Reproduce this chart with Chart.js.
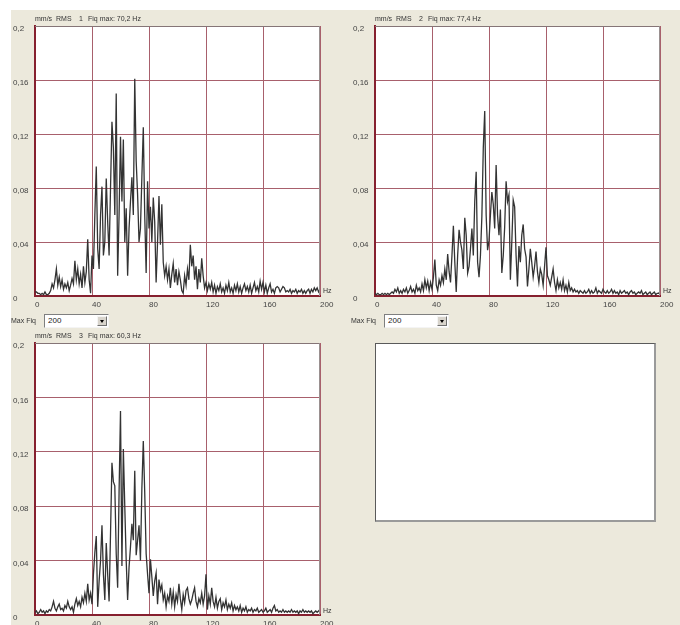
<!DOCTYPE html>
<html><head><meta charset="utf-8">
<script src="https://cdn.jsdelivr.net/npm/chart.js@4.4.1/dist/chart.umd.min.js"></script>
<style>
html,body{margin:0;padding:0;width:680px;height:625px;overflow:hidden;background:#fff;font-family:"Liberation Sans",Arial,sans-serif;}
#panel{position:absolute;left:11px;top:10px;width:669px;height:615px;background:#ece9dc;}
canvas{position:absolute;}
.t{position:absolute;font-size:7px;color:#333;white-space:pre;line-height:9px;}
.dd{position:absolute;width:65px;height:14px;box-sizing:border-box;background:#fff;border:1px solid;border-color:#7f7f7f #f4f4f4 #f4f4f4 #7f7f7f;font-size:8px;line-height:12px;padding-left:3px;color:#222;}
.dd .b{position:absolute;right:1px;top:1px;width:10px;height:10px;box-sizing:border-box;background:#d8d4cc;border:1px solid;border-color:#f4f4f4 #707070 #707070 #f4f4f4;}
.dd .b:after{content:"";position:absolute;left:2px;top:3px;border-left:2.5px solid transparent;border-right:2.5px solid transparent;border-top:3px solid #000;}
#empty{position:absolute;left:375px;top:343px;width:281px;height:179px;box-sizing:border-box;background:#fff;border:1px solid #5a5a5a;border-right:2px solid #9a9a9a;border-bottom:2px solid #9a9a9a;}
</style>
</head><body>
<div id="panel"></div>

<canvas id="c1" width="340" height="312" style="left:0;top:0"></canvas>
<canvas id="c2" width="340" height="312" style="left:340px;top:0"></canvas>
<canvas id="c3" width="340" height="314" style="left:0;top:317px"></canvas>
<div id="empty"></div>

<div class="t" style="left:35px;top:14px">mm/s</div><div class="t" style="left:56px;top:14px">RMS</div><div class="t" style="left:79px;top:14px">1</div><div class="t" style="left:88px;top:14px">Fiq max: 70,2 Hz</div>
<div class="t" style="left:323px;top:286px">Hz</div>
<div class="t" style="left:11px;top:316px">Max Fiq</div>
<div class="dd" style="left:44px;top:314px">200<div class="b"></div></div>

<div class="t" style="left:375px;top:14px">mm/s</div><div class="t" style="left:396px;top:14px">RMS</div><div class="t" style="left:419px;top:14px">2</div><div class="t" style="left:428px;top:14px">Fiq max: 77,4 Hz</div>
<div class="t" style="left:663px;top:286px">Hz</div>
<div class="t" style="left:351px;top:316px">Max Fiq</div>
<div class="dd" style="left:384px;top:314px">200<div class="b"></div></div>

<div class="t" style="left:35px;top:331px">mm/s</div><div class="t" style="left:56px;top:331px">RMS</div><div class="t" style="left:79px;top:331px">3</div><div class="t" style="left:88px;top:331px">Fiq max: 60,3 Hz</div>
<div class="t" style="left:323px;top:606px">Hz</div>

<script>
// ---- data (mm/s RMS, 1 Hz bins from 0 to 200 Hz) ----
const FREQ_STEP_HZ = 1;
const X_TICKS = [0, 40, 80, 120, 160, 200];
const Y_TICKS = [0, 0.04, 0.08, 0.12, 0.16, 0.2];

const SPECTRUM_1 = [
0.003,0.003,0.002,0.002,0.001,0.002,0.001,0.003,0.001,0.001,
0.002,0.004,0.009,0.006,0.012,0.020,0.008,0.014,0.007,0.012,
0.005,0.009,0.006,0.010,0.004,0.008,0.013,0.009,0.026,0.012,
0.020,0.009,0.016,0.006,0.022,0.010,0.018,0.042,0.012,0.002,
0.030,0.020,0.060,0.096,0.035,0.020,0.060,0.081,0.030,0.040,
0.087,0.055,0.030,0.080,0.129,0.110,0.060,0.150,0.015,0.060,
0.118,0.070,0.116,0.040,0.065,0.015,0.050,0.070,0.088,0.060,
0.161,0.100,0.075,0.040,0.050,0.088,0.125,0.060,0.017,0.085,
0.050,0.066,0.040,0.073,0.055,0.010,0.040,0.074,0.038,0.068,
0.025,0.015,0.022,0.012,0.020,0.006,0.016,0.024,0.010,0.020,
0.008,0.018,0.012,0.004,0.002,0.015,0.008,0.020,0.012,0.038,
0.022,0.030,0.012,0.022,0.005,0.020,0.010,0.028,0.015,0.006,
0.010,0.004,0.009,0.005,0.010,0.003,0.008,0.002,0.007,0.004,
0.009,0.003,0.006,0.002,0.008,0.004,0.010,0.003,0.006,0.002,
0.008,0.004,0.009,0.003,0.007,0.002,0.006,0.009,0.004,0.007,
0.003,0.008,0.002,0.006,0.010,0.004,0.007,0.003,0.011,0.005,
0.010,0.003,0.008,0.002,0.006,0.009,0.003,0.005,0.002,0.006,
0.007,0.006,0.003,0.005,0.007,0.006,0.003,0.004,0.003,0.005,
0.002,0.004,0.003,0.005,0.002,0.004,0.003,0.005,0.002,0.004,
0.002,0.004,0.005,0.002,0.005,0.003,0.006,0.004,0.006,0.003,
0.005];

const SPECTRUM_2 = [
0.002,0.001,0.002,0.001,0.001,0.002,0.001,0.002,0.001,0.002,
0.001,0.002,0.003,0.002,0.005,0.003,0.006,0.002,0.004,0.002,
0.005,0.003,0.006,0.002,0.004,0.007,0.003,0.005,0.002,0.008,
0.004,0.006,0.003,0.009,0.004,0.012,0.006,0.011,0.004,0.010,
0.005,0.014,0.027,0.008,0.004,0.012,0.008,0.015,0.010,0.020,
0.012,0.031,0.018,0.010,0.030,0.052,0.025,0.003,0.030,0.049,
0.040,0.034,0.020,0.058,0.045,0.017,0.022,0.035,0.050,0.030,
0.070,0.092,0.025,0.014,0.030,0.059,0.110,0.137,0.060,0.034,
0.041,0.060,0.077,0.068,0.050,0.097,0.060,0.045,0.064,0.017,
0.030,0.051,0.085,0.070,0.075,0.012,0.040,0.071,0.066,0.030,
0.007,0.037,0.025,0.045,0.053,0.035,0.029,0.007,0.020,0.035,
0.025,0.014,0.022,0.033,0.018,0.010,0.020,0.016,0.008,0.022,
0.036,0.015,0.012,0.008,0.014,0.020,0.010,0.004,0.012,0.006,
0.010,0.005,0.012,0.004,0.008,0.003,0.010,0.004,0.006,0.003,
0.005,0.003,0.004,0.002,0.004,0.003,0.002,0.004,0.002,0.003,
0.005,0.002,0.004,0.002,0.003,0.006,0.002,0.004,0.003,0.002,
0.005,0.003,0.002,0.004,0.002,0.003,0.005,0.002,0.004,0.002,
0.003,0.001,0.004,0.002,0.003,0.004,0.002,0.003,0.001,0.003,
0.004,0.002,0.003,0.001,0.002,0.003,0.002,0.004,0.001,0.002,
0.003,0.001,0.002,0.003,0.001,0.002,0.003,0.001,0.002,0.002,
0.003];

const SPECTRUM_3 = [
0.002,0.003,0.001,0.002,0.004,0.002,0.003,0.001,0.003,0.002,
0.004,0.003,0.006,0.010,0.005,0.003,0.006,0.008,0.004,0.005,
0.003,0.007,0.005,0.010,0.006,0.004,0.006,0.002,0.008,0.012,
0.007,0.010,0.006,0.013,0.009,0.016,0.010,0.023,0.011,0.016,
0.008,0.030,0.046,0.058,0.006,0.025,0.040,0.066,0.030,0.011,
0.053,0.030,0.010,0.060,0.112,0.098,0.095,0.045,0.020,0.090,
0.150,0.036,0.122,0.080,0.040,0.011,0.035,0.050,0.067,0.055,
0.106,0.044,0.055,0.066,0.040,0.093,0.128,0.090,0.045,0.030,
0.016,0.041,0.028,0.014,0.025,0.031,0.008,0.026,0.018,0.022,
0.011,0.016,0.006,0.014,0.010,0.020,0.008,0.017,0.006,0.015,
0.010,0.023,0.012,0.004,0.015,0.009,0.018,0.020,0.012,0.008,
0.011,0.016,0.020,0.010,0.006,0.012,0.009,0.016,0.008,0.014,
0.030,0.004,0.014,0.008,0.020,0.010,0.006,0.013,0.005,0.010,
0.012,0.004,0.009,0.006,0.011,0.004,0.008,0.005,0.009,0.003,
0.007,0.004,0.006,0.003,0.007,0.002,0.005,0.003,0.006,0.002,
0.004,0.003,0.005,0.002,0.004,0.003,0.005,0.002,0.003,0.004,
0.002,0.003,0.005,0.002,0.003,0.004,0.002,0.005,0.007,0.003,
0.004,0.002,0.003,0.002,0.004,0.002,0.003,0.002,0.003,0.002,
0.004,0.002,0.003,0.002,0.003,0.001,0.003,0.002,0.004,0.002,
0.003,0.002,0.003,0.002,0.003,0.001,0.002,0.003,0.002,0.003,
0.004];

// ---- styling ----
const GRID = '#a8606c';
const AXIS = '#86202f';
const LINE = '#333333';
const TICK_FONT = {family: '"Liberation Sans", Arial, sans-serif', size: 8};
const fmt = v => String(+(+v).toFixed(2)).replace('.', ',');

const areaPlugin = {
  id: 'area',
  beforeDraw(chart) {
    const a = chart.chartArea, ctx = chart.ctx;
    ctx.save(); ctx.fillStyle = '#fff';
    ctx.fillRect(a.left, a.top, a.right - a.left, a.bottom - a.top);
    ctx.restore();
  },
  afterDraw(chart) {
    const a = chart.chartArea, ctx = chart.ctx;
    ctx.save(); ctx.lineWidth = 1;
    ctx.strokeStyle = '#857577';
    ctx.beginPath(); ctx.moveTo(a.left, a.top + 0.5); ctx.lineTo(a.right, a.top + 0.5); ctx.stroke();
    ctx.strokeStyle = '#9a9090';
    ctx.beginPath(); ctx.moveTo(a.right - 0.5, a.top); ctx.lineTo(a.right - 0.5, a.bottom); ctx.stroke();
    ctx.restore();
  }
};

function makeChart(id, values, xAxisHeight) {
  const freqs = values.map((_, i) => i * FREQ_STEP_HZ);
  return new Chart(document.getElementById(id), {
    type: 'line',
    data: {
      labels: freqs,
      datasets: [{data: values, borderColor: LINE, borderWidth: 1.3, pointRadius: 0, tension: 0, fill: false}]
    },
    options: {
      responsive: false, animation: false, events: [],
      layout: {padding: {left: 13, top: 26, right: 20, bottom: 0}},
      plugins: {legend: {display: false}, tooltip: {enabled: false}, title: {display: false}},
      scales: {
        x: {
          type: 'linear', min: X_TICKS[0], max: X_TICKS[X_TICKS.length - 1],
          afterBuildTicks: s => { s.ticks = X_TICKS.map(v => ({value: v})); },
          ticks: {align: 'start', padding: 4, color: '#444', font: TICK_FONT, maxRotation: 0, autoSkip: false},
          grid: {color: GRID, lineWidth: 1, drawTicks: false},
          border: {color: AXIS, width: 2},
          afterFit: s => { s.height = xAxisHeight; }
        },
        y: {
          min: Y_TICKS[0], max: Y_TICKS[Y_TICKS.length - 1],
          afterBuildTicks: s => { s.ticks = Y_TICKS.map(v => ({value: v})); },
          ticks: {crossAlign: 'far', labelOffset: 3, color: '#444', font: TICK_FONT, callback: v => fmt(v)},
          grid: {color: GRID, lineWidth: 1, drawTicks: false},
          border: {color: AXIS, width: 2},
          afterFit: s => { s.width = 22; }
        }
      }
    },
    plugins: [areaPlugin]
  });
}

makeChart('c1', SPECTRUM_1, 16);
makeChart('c2', SPECTRUM_2, 16);
makeChart('c3', SPECTRUM_3, 16);
</script>
</body></html>
